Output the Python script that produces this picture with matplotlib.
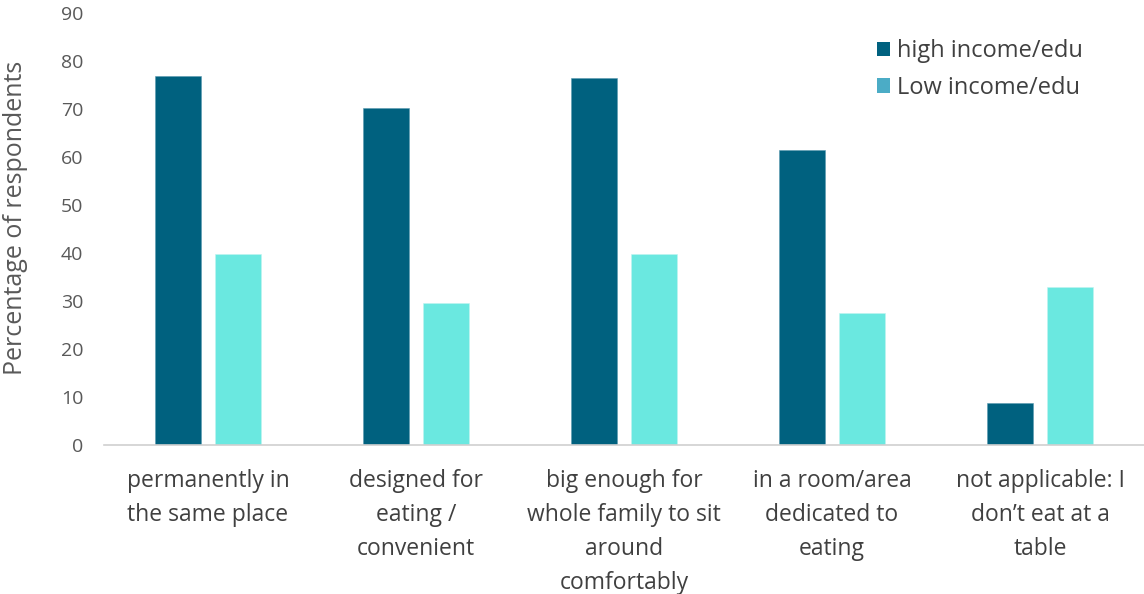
import matplotlib
matplotlib.use("Agg")
import matplotlib.pyplot as plt
import numpy as np
from matplotlib.patches import Patch

categories = ["permanently in\nthe same place",
              "designed for\neating /\nconvenient",
              "big enough for\nwhole family to sit\naround\ncomfortably",
              "in a room/area\ndedicated to\neating",
              "not applicable: I\ndon\u2019t eat at a\ntable"]
high_income = [76.8, 70.2, 76.4, 61.4, 8.7]
low_income = [39.8, 29.6, 39.8, 27.5, 33.0]
series_names = ["high income/edu", "Low income/edu"]
yticks = [0, 10, 20, 30, 40, 50, 60, 70, 80, 90]

plt.rcParams['font.family'] = ['Open Sans', 'DejaVu Sans']

fig = plt.figure(figsize=(11.44, 5.94), dpi=100)
ax = fig.add_axes([104/1144, 1-445/594, 1040/1144, 432/594])

x = np.arange(len(categories))
w = 0.221
off = 0.144
c_high = "#00617F"
c_low = "#6AE8E0"
ax.bar(x - off, high_income, w, color=c_high, edgecolor="#5a9ab0", linewidth=0.4)
ax.bar(x + off, low_income, w, color=c_low, edgecolor="#c0f4f0", linewidth=0.4)

ax.set_xlim(-0.5, len(categories) - 0.5)
ax.set_ylim(0, 90)
ax.set_yticks(yticks)
ax.set_yticklabels([str(t) for t in yticks], fontsize=14, color="#595959")
ax.set_xticks(x)
ax.set_xticklabels(categories, fontsize=16.5, color="#404040", linespacing=1.57, va="top")
ax.tick_params(axis="both", length=0)
ax.tick_params(axis="y", pad=15)
ax.tick_params(axis="x", pad=17)
for s in ["top", "right", "left"]:
    ax.spines[s].set_visible(False)
ax.spines["bottom"].set_color("#d0d0d0")
ax.spines["bottom"].set_linewidth(1.2)

ax.set_ylabel("Percentage of respondents", fontsize=18, color="#595959")
ax.yaxis.set_label_coords(-(104 - 28) / 1040, (445 - 218) / 432)

handles = [Patch(facecolor=c_high, label=series_names[0]),
           Patch(facecolor="#4BACC6", label=series_names[1])]
leg = ax.legend(handles=handles, loc="upper left",
                bbox_to_anchor=((877 - 104) / 1040, (445 - 39) / 432),
                frameon=False, fontsize=17, handlelength=0.55, handleheight=0.55,
                handletextpad=0.3, labelspacing=0.54, borderpad=0, borderaxespad=0)
for t in leg.get_texts():
    t.set_color("#404040")

fig.savefig("out.png", dpi=100)
